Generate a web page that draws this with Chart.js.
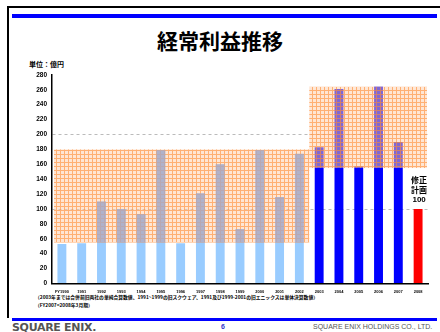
<!DOCTYPE html>
<html>
<head>
<meta charset="utf-8">
<script src="https://cdn.jsdelivr.net/npm/chart.js@4"></script>
<style>
	body { margin: 0; width: 440px; height: 332px; background: #fff; overflow: hidden; position: relative; font-family: "Liberation Sans", "Noto Sans CJK JP", sans-serif; }
	.abs { position: absolute; white-space: nowrap; }
	#topBlack { left: 8px; top: 6px; width: 432px; height: 2px; background: #000; }
	#leftBlack { left: 7px; top: 6px; width: 2px; height: 312px; background: #000; }
	#topBlue { left: 12px; top: 14px; width: 425px; height: 4px; background: #0000ff; }
	#botBlue { left: 12px; top: 318px; width: 425px; height: 3px; background: #0000ff; }
	#title { left: 0; width: 440px; top: 28px; text-align: center; font-size: 21px; font-weight: bold; font-family: "Noto Sans CJK JP", sans-serif; line-height: 24px; }
	#unit { left: 29px; top: 59px; font-size: 7px; font-weight: bold; font-family: "Noto Sans CJK JP", sans-serif; }
	#note { left: 35px; top: 293px; font-size: 4.8px; font-weight: bold; line-height: 8px; font-family: "Noto Sans CJK JP", sans-serif; }
	#logo { left: 12px; top: 321px; font-size: 11px; font-weight: bold; color: #555; letter-spacing: -0.3px; font-family: "DejaVu Sans", sans-serif; }
	#page { left: 221px; top: 323px; font-size: 7px; color: #3333cc; font-weight: bold; }
	#company { left: 313px; top: 323px; font-size: 7px; color: #555; }
	canvas { position: absolute; left: 20px; top: 66px; }
</style>
</head>
<body>
<div class="abs" id="topBlack"></div>
<div class="abs" id="leftBlack"></div>
<div class="abs" id="topBlue"></div>
<div class="abs" id="title">経常利益推移</div>
<div class="abs" id="unit">単位：億円</div>
<div class="abs" id="note">（2003年までは合併前旧両社の単純合算数値、1991~1999の旧スクウェア、1991及び1999-2001の旧エニックスは単体決算数値）<br>（FY2007=2008年3月期）</div>
<div class="abs" id="botBlue"></div>
<div class="abs" id="logo">SQUARE ENIX.</div>
<div class="abs" id="page">6</div>
<div class="abs" id="company">SQUARE ENIX HOLDINGS CO., LTD.</div>
<canvas id="chart" width="412" height="232"></canvas>
<script>
const years = ['FY1990', '1991', '1992', '1993', '1994', '1995', '1996', '1997', '1998', '1999',
	'2000', '2001', '2002', '2003', '2004', '2005', '2006', '2007', '2008'];
const profit = [53, 54, 110, 100, 93, 179, 54, 121, 160, 73, 179, 116, 174, 183, 261, 157, 264, 190, 100];
const barColors = [
	'#99ccff', '#99ccff', '#99ccff', '#99ccff', '#99ccff', '#99ccff', '#99ccff',
	'#99ccff', '#99ccff', '#99ccff', '#99ccff', '#99ccff', '#99ccff',
	'#0000ff', '#0000ff', '#0000ff', '#0000ff', '#0000ff', '#ff0000'
];
// shaded ranges: [first index, last index, low, high]
const bandLeft = [0, 12, 55, 180];
const bandRight = [13, 18, 155, 264];
const yTicksMax = 280;
const planLabel = ['修正', '計画', '100'];

const fontFamily = '"Liberation Sans", "Noto Sans CJK JP", sans-serif';

// orange checkered fill
const tile = document.createElement('canvas');
tile.width = 4; tile.height = 4;
const tctx = tile.getContext('2d');
tctx.fillStyle = 'rgba(255,205,170,0.5)';
tctx.fillRect(0, 0, 4, 4);
tctx.fillStyle = 'rgba(255,140,50,0.6)';
tctx.fillRect(0, 0, 4, 1);
tctx.fillRect(0, 1, 1, 3);

const bandPlugin = {
	id: 'bands',
	afterDatasetsDraw(chart) {
		const { ctx, chartArea, scales: { x, y } } = chart;
		const bars = chart.getDatasetMeta(0).data;
		const pat = ctx.createPattern(tile, 'repeat');
		const edge = (i, side) => {
			if (i + side < 0) return chartArea.left + 2;
			if (i + side >= years.length) return chartArea.right - 1;
			return (x.getPixelForValue(i) + x.getPixelForValue(i + side)) / 2;
		};
		ctx.save();
		[bandLeft, bandRight].forEach((b, k) => {
			const x0 = edge(b[0], -1), x1 = edge(b[1], 1);
			const y0 = y.getPixelForValue(b[3]), y1 = y.getPixelForValue(b[2]);
			ctx.fillStyle = pat;
			ctx.fillRect(x0, y0, x1 - x0, y1 - y0);
			if (k === 0) {
				// light bars look greyish through the hatching
				ctx.fillStyle = 'rgba(165,168,200,0.75)';
				for (let i = b[0]; i <= b[1]; i++) {
					const bar = bars[i];
					if (bar.y >= y1) continue;
					const top = Math.max(bar.y, y0);
					ctx.fillRect(bar.x - bar.width / 2, top, bar.width, y1 - top);
				}
			}
		});
		// plan annotation above last bar
		const bar = bars[years.length - 1];
		ctx.fillStyle = '#000';
		ctx.textAlign = 'center';
		ctx.textBaseline = 'middle';
		ctx.font = 'bold 8px ' + fontFamily;
		planLabel.forEach((t, i) => ctx.fillText(t, bar.x + 1, bar.y - 28 + i * 9.5));
		ctx.restore();
	}
};

new Chart(document.getElementById('chart'), {
	type: 'bar',
	data: {
		labels: years,
		datasets: [{
			data: profit,
			backgroundColor: barColors,
			barPercentage: 0.45,
			categoryPercentage: 1
		}]
	},
	options: {
		responsive: false,
		animation: false,
		layout: { padding: { top: 8, right: 4, left: 0, bottom: 0 } },
		plugins: { legend: { display: false }, tooltip: { enabled: false } },
		scales: {
			x: {
				afterFit: s => { s.height = 14.5; },
				grid: { display: false, drawTicks: false },
				border: { color: '#000', width: 1.5 },
				ticks: { color: '#000', font: { size: 4, weight: 'bold', family: fontFamily }, maxRotation: 0, autoSkip: false, padding: 6 }
			},
			y: {
				min: 0, max: yTicksMax,
				afterFit: s => { s.width = 32; },
				grid: {
					drawTicks: false,
					color: c => (c.tick.value > 0 && c.tick.value % 100 === 0) ? '#bbbbbb' : 'rgba(0,0,0,0)',
					lineWidth: 1
				},
				border: { color: '#000', width: 1.5, dash: [3, 3] },
				ticks: { stepSize: 20, color: '#000', font: { size: 6.5, weight: 'bold', family: fontFamily }, padding: 5 }
			}
		}
	},
	plugins: [bandPlugin]
});
</script>
</body>
</html>
